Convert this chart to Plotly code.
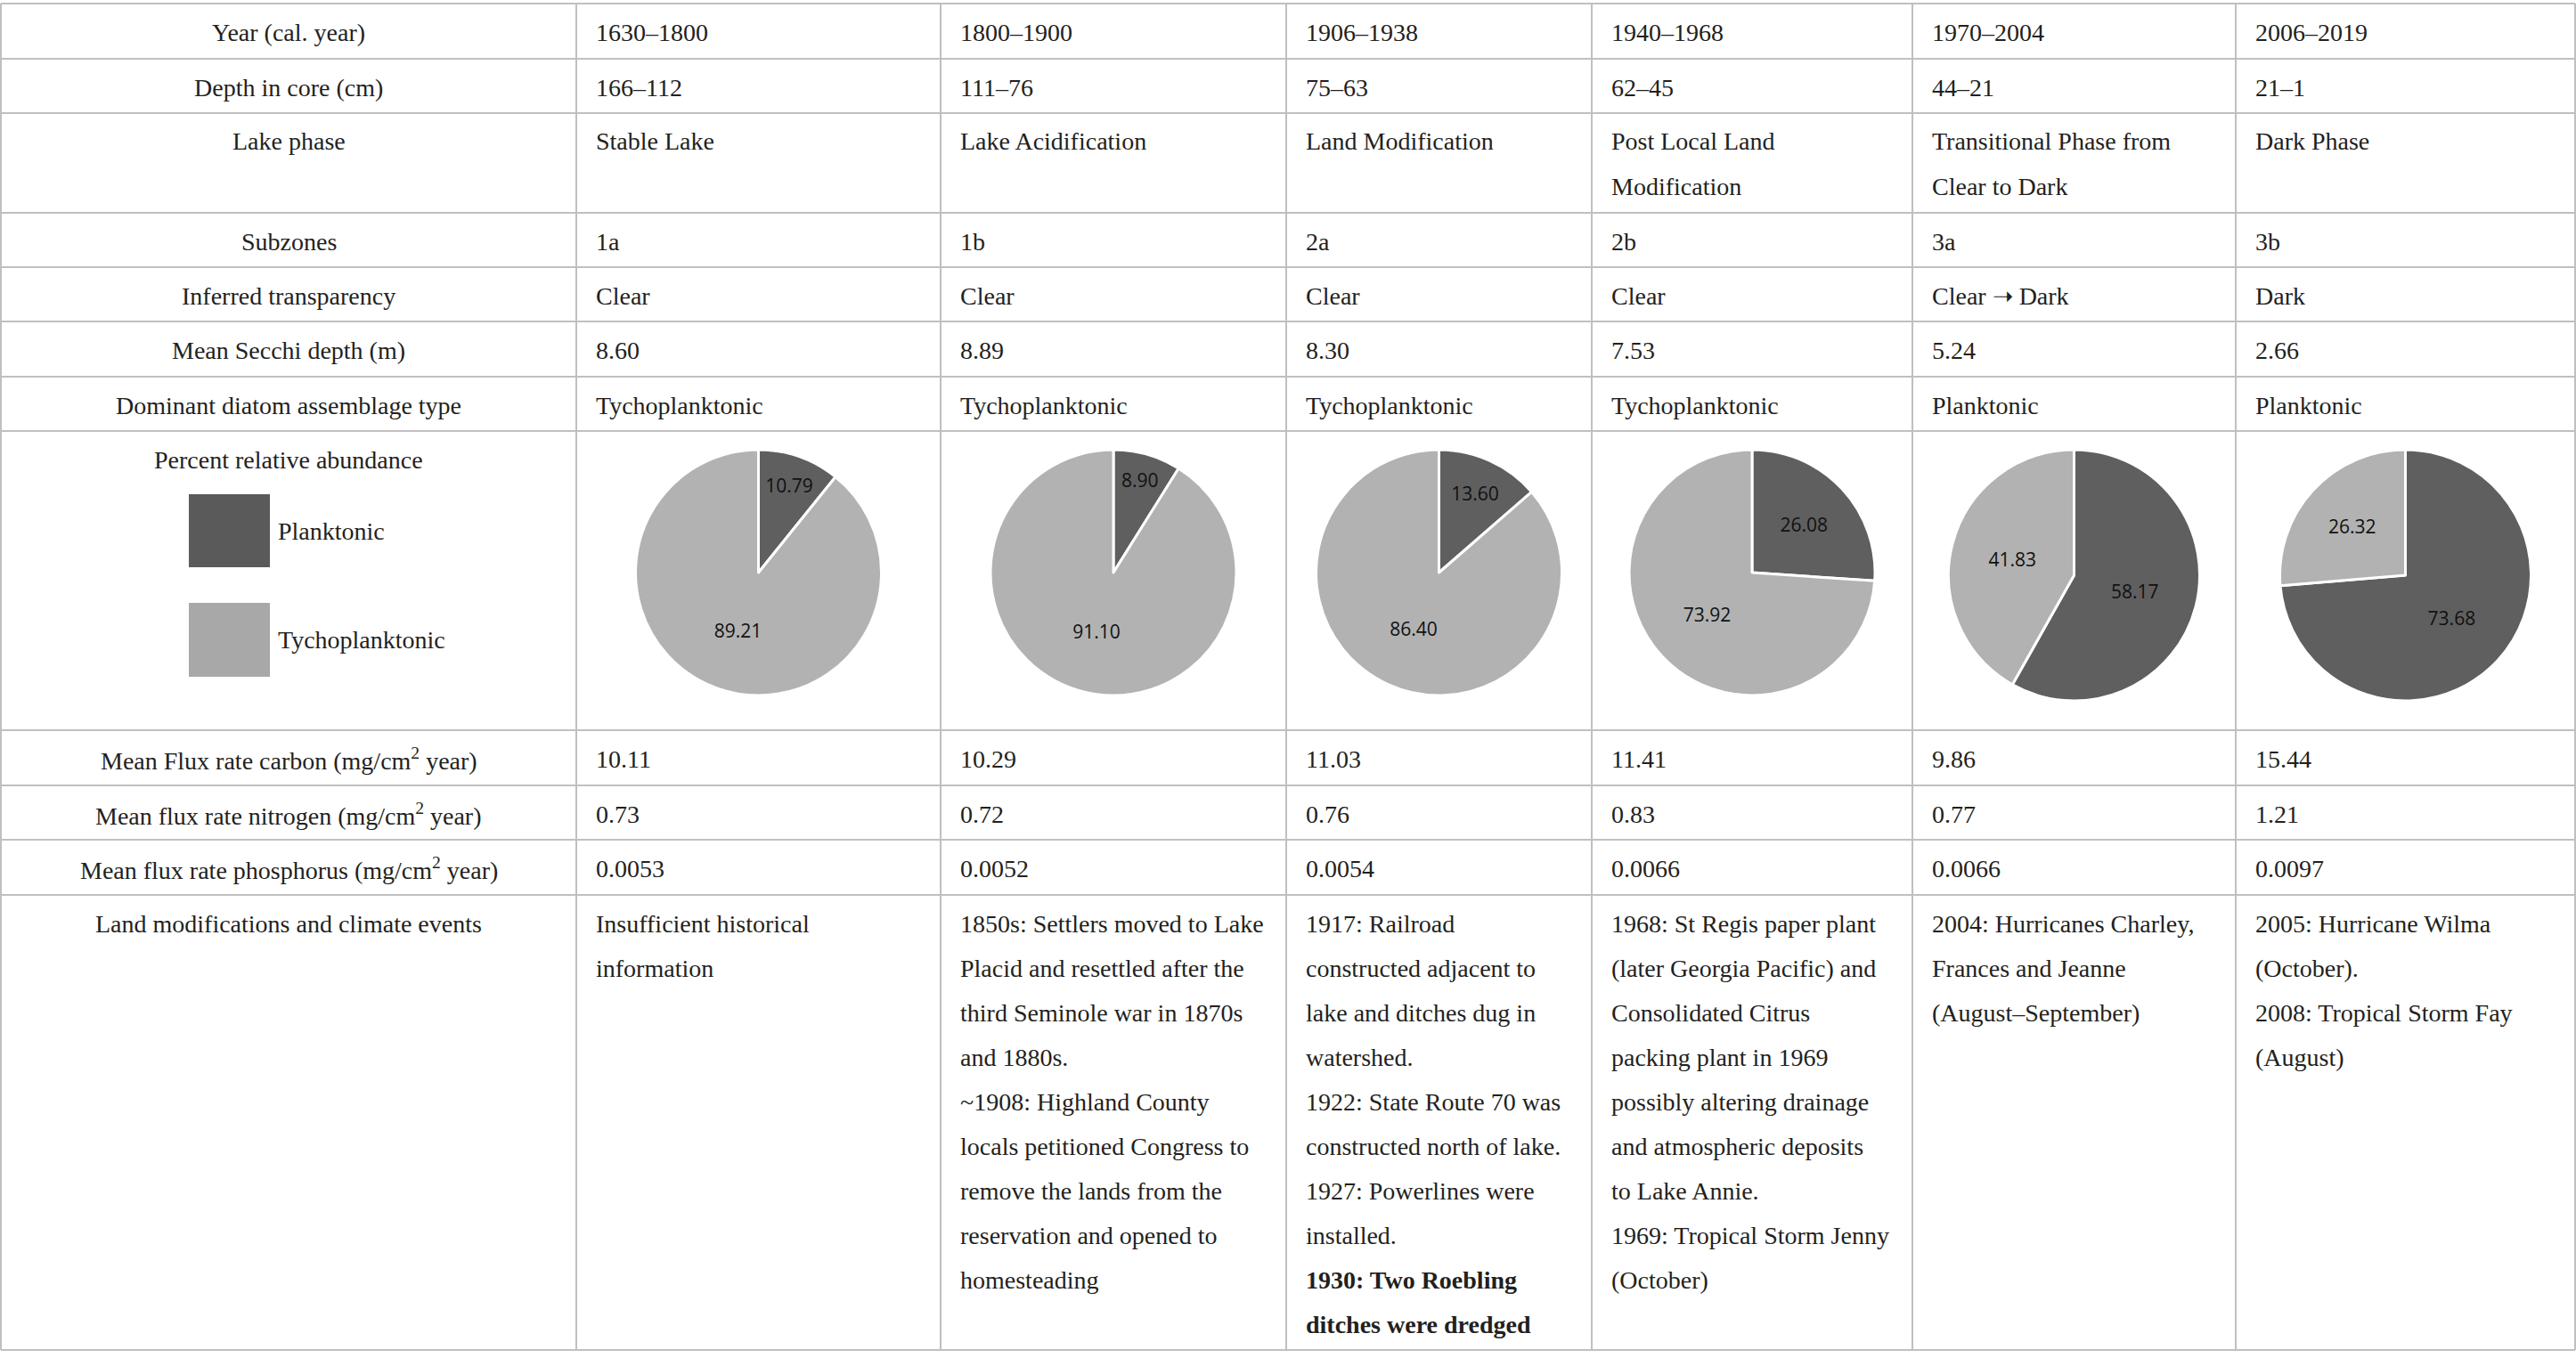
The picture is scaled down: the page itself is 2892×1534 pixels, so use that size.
import plotly.graph_objects as go

# --- table content -------------------------------------------------------
row_labels = [
    "Year (cal. year)",
    "Depth in core (cm)",
    "Lake phase",
    "Subzones",
    "Inferred transparency",
    "Mean Secchi depth (m)",
    "Dominant diatom assemblage type",
    "Percent relative abundance",
    "Mean Flux rate carbon (mg/cm<sup>2</sup> year)",
    "Mean flux rate nitrogen (mg/cm<sup>2</sup> year)",
    "Mean flux rate phosphorus (mg/cm<sup>2</sup> year)",
    "Land modifications and climate events",
]

years = ["1630–1800", "1800–1900", "1906–1938", "1940–1968", "1970–2004", "2006–2019"]
depths = ["166–112", "111–76", "75–63", "62–45", "44–21", "21–1"]
lake_phase = [
    ["Stable Lake"],
    ["Lake Acidification"],
    ["Land Modification"],
    ["Post Local Land", "Modification"],
    ["Transitional Phase from", "Clear to Dark"],
    ["Dark Phase"],
]
subzones = ["1a", "1b", "2a", "2b", "3a", "3b"]
transparency = ["Clear", "Clear", "Clear", "Clear", "Clear ➝ Dark", "Dark"]
secchi = [8.60, 8.89, 8.30, 7.53, 5.24, 2.66]
dominant = ["Tychoplanktonic", "Tychoplanktonic", "Tychoplanktonic",
            "Tychoplanktonic", "Planktonic", "Planktonic"]

diatom_types = ["Planktonic", "Tychoplanktonic"]
planktonic = [10.79, 8.90, 13.60, 26.08, 58.17, 73.68]
tychoplanktonic = [89.21, 91.10, 86.40, 73.92, 41.83, 26.32]

flux_carbon = [10.11, 10.29, 11.03, 11.41, 9.86, 15.44]
flux_nitrogen = [0.73, 0.72, 0.76, 0.83, 0.77, 1.21]
flux_phosphorus = [0.0053, 0.0052, 0.0054, 0.0066, 0.0066, 0.0097]

events = [
    ["Insufficient historical", "information"],
    ["1850s: Settlers moved to Lake", "Placid and resettled after the",
     "third Seminole war in 1870s", "and 1880s.", "~1908: Highland County",
     "locals petitioned Congress to", "remove the lands from the",
     "reservation and opened to", "homesteading"],
    ["1917: Railroad", "constructed adjacent to", "lake and ditches dug in",
     "watershed.", "1922: State Route 70 was", "constructed north of lake.",
     "1927: Powerlines were", "installed.", "<b>1930: Two Roebling</b>",
     "<b>ditches were dredged</b>"],
    ["1968: St Regis paper plant", "(later Georgia Pacific) and",
     "Consolidated Citrus", "packing plant in 1969", "possibly altering drainage",
     "and atmospheric deposits", "to Lake Annie.", "1969: Tropical Storm Jenny",
     "(October)"],
    ["2004: Hurricanes Charley,", "Frances and Jeanne", "(August–September)"],
    ["2005: Hurricane Wilma", "(October).", "2008: Tropical Storm Fay", "(August)"],
]

# --- layout constants (pixels) ------------------------------------------
W, H = 2892, 1534
col_edges = [1, 647, 1056, 1444, 1787, 2147, 2510, 2891]
row_edges = [4, 66, 127, 239, 300, 361, 423, 484, 820, 882, 943, 1005, 1516]
pie_cy = [643, 643, 643, 643, 646, 646]
pie_r = [138, 138, 138, 138, 141, 141]
first_line = 32
line_gap = 50
pad_left = 20

GRID = "#c0c0c0"
TEXT = "#231f20"
DARK, LIGHT = "#5f5f5f", "#b2b2b2"
LEG_DARK, LEG_LIGHT = "#5a5a5a", "#a8a8a8"
SERIF = "Liberation Serif"
FS = 28


def px(x):
    return x / W


def py(y):
    return 1 - y / H


# cell text per row (list of lines per column), pie row handled separately
cells = [
    [[v] for v in years],
    [[v] for v in depths],
    lake_phase,
    [[v] for v in subzones],
    [[v] for v in transparency],
    [[f"{v:.2f}"] for v in secchi],
    [[v] for v in dominant],
    None,
    [[f"{v:.2f}"] for v in flux_carbon],
    [[f"{v:.2f}"] for v in flux_nitrogen],
    [[f"{v:.4f}"] for v in flux_phosphorus],
    events,
]

fig = go.Figure()

# pies
for i in range(6):
    cx = (col_edges[i + 1] + col_edges[i + 2]) / 2
    cy, r = pie_cy[i], pie_r[i]
    fig.add_trace(go.Pie(
        labels=diatom_types,
        values=[planktonic[i], tychoplanktonic[i]],
        marker=dict(colors=[DARK, LIGHT], line=dict(color="white", width=3)),
        sort=False, direction="clockwise", rotation=0,
        domain=dict(x=[px(cx - r), px(cx + r)], y=[py(cy + r), py(cy - r)]),
        texttemplate="%{value:.2f}", textposition="inside",
        insidetextorientation="horizontal",
        textfont=dict(family="Open Sans", size=21, color="#111111"),
        showlegend=False, hoverinfo="label+value",
    ))

annotations = []
shapes = []

for ri, label in enumerate(row_labels):
    top = row_edges[ri]
    annotations.append(dict(
        x=px((col_edges[0] + col_edges[1]) / 2), y=py(top + first_line),
        xref="paper", yref="paper", text=label, showarrow=False,
        xanchor="center", yanchor="middle",
        font=dict(family=SERIF, size=FS, color=TEXT),
    ))
    if cells[ri] is None:
        continue
    for ci, lines in enumerate(cells[ri]):
        for li, line in enumerate(lines):
            annotations.append(dict(
                x=px(col_edges[ci + 1] + pad_left),
                y=py(top + first_line + li * line_gap),
                xref="paper", yref="paper", text=line, showarrow=False,
                xanchor="left", yanchor="middle",
                font=dict(family=SERIF, size=FS, color=TEXT),
            ))

# legend in the pie row
leg_x0, leg_x1 = 212, 303
leg_boxes = [(555, 637), (677, 760)]
for (y0, y1), name, color in zip(leg_boxes, diatom_types, [LEG_DARK, LEG_LIGHT]):
    shapes.append(dict(type="rect", xref="paper", yref="paper",
                       x0=px(leg_x0), x1=px(leg_x1), y0=py(y1), y1=py(y0),
                       fillcolor=color, line=dict(width=0), layer="above"))
    annotations.append(dict(
        x=px(leg_x1 + 7), y=py((y0 + y1) / 2), xref="paper", yref="paper",
        text=name, showarrow=False, xanchor="left", yanchor="middle",
        font=dict(family=SERIF, size=FS, color=TEXT),
    ))

# grid lines
for y in row_edges:
    shapes.append(dict(type="line", xref="paper", yref="paper",
                       x0=px(col_edges[0]), x1=px(col_edges[-1]), y0=py(y), y1=py(y),
                       line=dict(color=GRID, width=2)))
for x in col_edges:
    shapes.append(dict(type="line", xref="paper", yref="paper",
                       x0=px(x), x1=px(x), y0=py(row_edges[0]), y1=py(row_edges[-1]),
                       line=dict(color=GRID, width=2)))

fig.update_layout(
    width=W, height=H,
    margin=dict(l=0, r=0, t=0, b=0, pad=0),
    paper_bgcolor="white", plot_bgcolor="white",
    annotations=annotations, shapes=shapes,
    uniformtext=dict(minsize=21, mode="show"),
    showlegend=False,
)

fig.write_html("out.html", config={"displayModeBar": False},
               post_script="document.body.style.margin='0';")
